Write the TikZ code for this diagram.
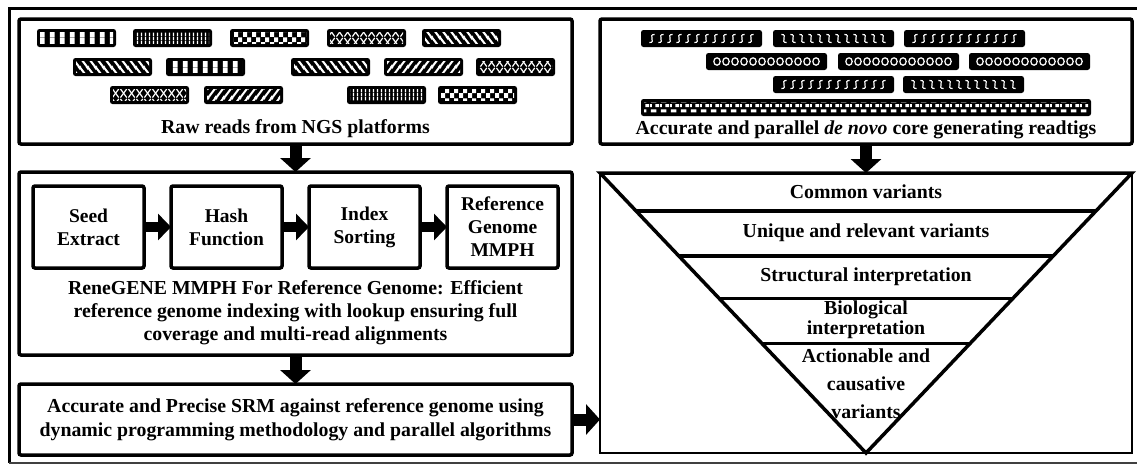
\documentclass[tikz,border=0pt]{standalone}
\usepackage{fontspec}
\setmainfont{Liberation Serif}
\usetikzlibrary{arrows.meta,patterns.meta,calc}

% fill textures for the sequencing reads (drawn in white on black bars)
\tikzdeclarepattern{name=rdbars,type=uncolored,
  bounding box={(0pt,0pt) and (9.5pt,10pt)},tile size={(9.5pt,10pt)},
  code={\fill (2pt,0pt) rectangle (7pt,10pt);}}
\tikzdeclarepattern{name=rdthin,type=uncolored,
  bounding box={(0pt,0pt) and (4pt,4pt)},tile size={(4pt,4pt)},
  code={\fill (1pt,0pt) rectangle (2.7pt,4pt);}}
\tikzdeclarepattern{name=rdcheck,type=uncolored,
  bounding box={(0pt,0pt) and (9pt,10pt)},tile size={(9pt,10pt)},
  code={\fill (0pt,0pt) rectangle (4.5pt,5pt); \fill (4.5pt,5pt) rectangle (9pt,10pt);}}
\tikzdeclarepattern{name=rdback,type=uncolored,
  bounding box={(0pt,0pt) and (8pt,10pt)},tile size={(8pt,10pt)},
  code={\draw[line width=2.2pt] (-1pt,11.25pt) -- (9pt,-1.25pt);
    \draw[line width=2.2pt] (-2pt,2.5pt) -- (2pt,-2.5pt);
    \draw[line width=2.2pt] (6pt,12.5pt) -- (10pt,7.5pt);}}
\tikzdeclarepattern{name=rdfwd,type=uncolored,
  bounding box={(0pt,0pt) and (8pt,10pt)},tile size={(8pt,10pt)},
  code={\draw[line width=2.2pt] (-1pt,-1.25pt) -- (9pt,11.25pt);
    \draw[line width=2.2pt] (-2pt,7.5pt) -- (2pt,12.5pt);
    \draw[line width=2.2pt] (6pt,-2.5pt) -- (10pt,2.5pt);}}
\tikzdeclarepattern{name=rdcross,type=uncolored,
  bounding box={(0pt,0pt) and (8pt,10pt)},tile size={(8pt,10pt)},
  code={\draw[line width=1.3pt] (0.5pt,0.5pt) -- (7.5pt,9.5pt);
    \draw[line width=1.3pt] (0.5pt,9.5pt) -- (7.5pt,0.5pt);}}
\tikzdeclarepattern{name=rddash,type=uncolored,
  bounding box={(0pt,0pt) and (10pt,10pt)},tile size={(10pt,10pt)},
  code={\fill (1pt,6pt) rectangle (7pt,9pt);
    \fill (6pt,1pt) rectangle (10pt,4pt); \fill (0pt,1pt) rectangle (2pt,4pt);}}

% one read: x, y, width, height, texture
\newcommand\readbar[5]{%
  \fill[black, rounded corners=2.5pt] (#1,#2) rectangle ++(#3,#4);
  \fill[pattern=#5, pattern color=white]
    ([shift={(3,3.5)}]#1,#2) rectangle ([shift={(#3-3,#4-3.5)}]#1,#2);
}

% one assembled read: x, y, mirror (1 or -1), motif (1 = S curves, 0 = links)
\newcommand\wavebar[4]{%
  \fill[black, rounded corners=2.5pt] (#1,#2) rectangle ++(121,17);
  \foreach \k in {0,...,11}{
    \begin{scope}[shift={(#1+11+9*\k,#2+8.5)}, xscale=#3]
      \ifnum#4=1
        \draw[white, line width=1.2pt] (2.6,-4) .. controls (-4.5,-4.5) and (4.5,4.5) .. (-2.6,4);
      \else
        \draw[white, line width=1.2pt] (0,0) ellipse (3.2 and 3.7);
      \fi
    \end{scope}}
}

\begin{document}
\begin{tikzpicture}[x=1pt,y=-1pt,
  box/.style={draw, line width=3.5pt, rounded corners=2pt, anchor=north west,
    inner sep=0pt, outer sep=0pt},
  stepbox/.style={draw, line width=3.5pt, rounded corners=2pt, minimum width=111pt,
    minimum height=82pt, align=center, inner sep=0pt, outer sep=0pt,
    font=\fontsize{19.5}{23}\selectfont\bfseries},
  lbl/.style={align=center, inner sep=0pt, font=\fontsize{19.8}{23}\selectfont\bfseries},
  blockarr/.style={line width=12pt, -{Triangle[length=14pt,width=30pt]}},
  steparr/.style={line width=10pt, -{Triangle[length=13pt,width=26pt]}},
]
\useasboundingbox (0,0) rectangle (1137,467);

% outer frame
\draw[line width=3pt] (1140,8) -- (9,8) -- (9,463);
\draw[line width=1.5pt, black!75] (9,463) -- (1140,463);

% main blocks
\node[box, minimum width=553pt, minimum height=125pt] (raw) at (19,19) {};
\node[box, minimum width=553pt, minimum height=183pt] (mmph) at (19,172) {};
\node[box, minimum width=553pt, minimum height=71pt] (srm) at (19,384) {};
\node[box, minimum width=532pt, minimum height=125pt] (asm) at (600,19) {};
\node[draw, line width=1.5pt, anchor=north west, minimum width=532pt,
  minimum height=280pt, inner sep=0pt, outer sep=0pt] (pyr) at (600,173) {};

% raw reads
\readbar{37}{29}{79}{18}{rdbars}
\readbar{133}{29}{79}{18}{rdthin}
\readbar{230}{29}{79}{18}{rdcheck}
\readbar{327}{29}{79}{18}{rdcross}
\readbar{422}{29}{79}{18}{rdback}
\readbar{73}{58}{79}{18}{rdback}
\readbar{166}{58}{79}{18}{rdbars}
\readbar{291}{58}{79}{18}{rdback}
\readbar{384}{58}{79}{18}{rdfwd}
\readbar{476}{58}{79}{18}{rdcross}
\readbar{110}{86}{79}{18}{rdcross}
\readbar{204}{86}{79}{18}{rdfwd}
\readbar{347}{86}{79}{18}{rdthin}
\readbar{438}{86}{79}{18}{rdcheck}
\node[lbl] (rawlbl) at (295.5,129) {Raw reads from NGS platforms};

% assembled reads
\wavebar{641}{30}{1}{1}
\wavebar{773}{30}{-1}{1}
\wavebar{904}{30}{1}{1}
\wavebar{706}{53}{1}{0}
\wavebar{838}{53}{1}{0}
\wavebar{969}{53}{1}{0}
\wavebar{773}{76}{1}{1}
\wavebar{903}{76}{-1}{1}
\readbar{641}{99}{450}{17}{rddash}
\node[lbl] (asmlbl) at (866,130) {Accurate and parallel \textit{de novo} core generating readtigs};

% indexing steps
\node[stepbox] (seed) at (88.5,227) {Seed\\Extract};
\node[stepbox] (hash) at (226.5,227) {Hash\\Function};
\node[stepbox] (sort) at (364.5,227) {Index\\Sorting};
\node[stepbox] (refg) at (502.5,227) {Reference\\Genome\\MMPH};
\draw[steparr] (seed.east) -- (hash.west);
\draw[steparr] (hash.east) -- (sort.west);
\draw[steparr] (sort.east) -- (refg.west);
\node[lbl] (mmphlbl) at (295.5,313) {ReneGENE MMPH For Reference Genome: Efficient\\
  reference genome indexing with lookup ensuring full\\coverage and multi-read alignments};

\node[lbl, font=\fontsize{19.8}{24}\selectfont\bfseries] (srmlbl) at (295.5,420)
  {Accurate and Precise SRM against reference genome using\\
   dynamic programming methodology and parallel algorithms};

% flow arrows
\draw[blockarr] (raw.south) -- (mmph.north);
\draw[blockarr] (mmph.south) -- (srm.north);
\draw[blockarr] (srm.east) -- (srm.east -| pyr.west);
\draw[blockarr] (asm.south) -- (pyr.north);

% variant funnel
\coordinate (tl) at (pyr.north west);
\coordinate (tr) at (pyr.north east);
\coordinate (ap) at (pyr.south);
\draw[line width=3.5pt, line join=miter] (tl) -- (tr) -- (ap) -- cycle;
\foreach \t in {0.136,0.297,0.448,0.609}
  \draw[line width=3.5pt] ($(tl)!\t!(ap)$) -- ($(tr)!\t!(ap)$);
\node[lbl] (v1) at (866,192) {Common variants};
\node[lbl] (v2) at (866,233) {Unique and relevant variants};
\node[lbl] (v3) at (866,277) {Structural interpretation};
\node[lbl, font=\fontsize{19.8}{20}\selectfont\bfseries] (v4) at (866,320) {Biological\\interpretation};
\node[lbl, font=\fontsize{19.8}{28}\selectfont\bfseries] (v5) at (866,384) {Actionable and\\causative\\variants};
\end{tikzpicture}
\end{document}
